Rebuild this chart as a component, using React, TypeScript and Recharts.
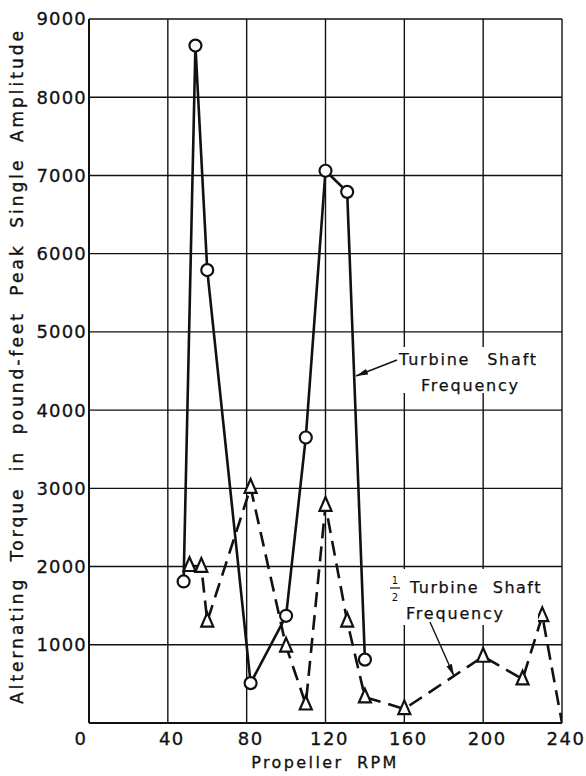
import React from "react";
import { LineChart, Line, XAxis, YAxis, CartesianGrid } from "recharts";

// Turbine shaft frequency (circles, solid)
const rpmTurbine = [48, 54, 60, 82, 100, 110, 120, 131, 140];
const torqueTurbine = [1810, 8660, 5790, 510, 1370, 3650, 7060, 6790, 810];

// 1/2 turbine shaft frequency (triangles, dashed); last point has no marker
const rpmHalf = [51, 57, 60, 82, 100, 110, 120, 131, 140, 160, 200, 220, 230, 240];
const torqueHalf = [2010, 2000, 1300, 3010, 980, 240, 2780, 1300, 330, 180, 850, 560, 1370, 0];
const halfMarked = [true, true, true, true, true, true, true, true, true, true, true, true, true, false];

const xTicks = [0, 40, 80, 120, 160, 200, 240];
const yTicks = [1000, 2000, 3000, 4000, 5000, 6000, 7000, 8000, 9000];

const turbineData = rpmTurbine.map((x, i) => ({ x, y: torqueTurbine[i] }));
const halfData = rpmHalf.map((x, i) => ({ x, y: torqueHalf[i], marked: halfMarked[i] }));

const INK = "#111";
const FONT = "'DejaVu Sans', sans-serif";

const CircleDot = (props: any) => {
  const { cx, cy, index } = props;
  return <circle key={"c" + index} cx={cx} cy={cy} r={6} fill="#fff" stroke={INK} strokeWidth={2.2} />;
};

const TriangleDot = (props: any) => {
  const { cx, cy, index, payload } = props;
  if (!payload || !payload.marked) return <g key={"t" + index} />;
  const s = 7.5;
  const d = `M${cx},${cy - s - 1} L${cx + s * 0.8},${cy + s * 0.7} L${cx - s * 0.8},${cy + s * 0.7} Z`;
  return <path key={"t" + index} d={d} fill="#fff" stroke={INK} strokeWidth={2.2} strokeLinejoin="miter" />;
};

const XTick = (props: any) => {
  const { x, y, payload } = props;
  const dx = payload.value === 0 ? -8 : 4;
  return (
    <text x={x + dx} y={y} dy="0.71em" textAnchor="middle" fill={INK} stroke={INK} strokeWidth={0.3}
      fontSize={18} fontFamily={FONT} letterSpacing={1.5}>
      {payload.value}
    </text>
  );
};

const YTick = (props: any) => {
  const { x, y, payload } = props;
  return (
    <text x={x} y={y} dy="0.36em" textAnchor="end" fill={INK} stroke={INK} strokeWidth={0.3}
      fontSize={18} fontFamily={FONT} letterSpacing={1.2}>
      {payload.value}
    </text>
  );
};

export default function App() {
  return (
    <div style={{ position: "absolute", left: 0, top: 0, width: 586, height: 776, background: "#fff" }}>
      <LineChart
        width={586}
        height={776}
        margin={{ top: 19, right: 24, bottom: 23, left: 29 }}
      >
        <CartesianGrid stroke={INK} strokeWidth={1.4} />
        <XAxis
          type="number"
          dataKey="x"
          domain={[0, 240]}
          ticks={xTicks}
          height={30}
          tickSize={0}
          tickMargin={9}
          tick={<XTick />}
          axisLine={{ stroke: INK, strokeWidth: 2 }}
          tickLine={false}
          allowDataOverflow
        />
        <YAxis
          type="number"
          dataKey="y"
          domain={[0, 9000]}
          ticks={yTicks}
          width={60}
          tickSize={0}
          tickMargin={2}
          tick={<YTick />}
          axisLine={{ stroke: INK, strokeWidth: 2 }}
          tickLine={false}
          interval={0}
        />
        <Line
          data={halfData}
          dataKey="y"
          type="linear"
          stroke={INK}
          strokeWidth={2.6}
          strokeDasharray="15 8"
          dot={TriangleDot}
          activeDot={false}
          isAnimationActive={false}
        />
        <Line
          data={turbineData}
          dataKey="y"
          type="linear"
          stroke={INK}
          strokeWidth={2.6}
          dot={CircleDot}
          activeDot={false}
          isAnimationActive={false}
        />
      </LineChart>
      <svg
        width={586}
        height={776}
        style={{ position: "absolute", left: 0, top: 0, pointerEvents: "none" }}
        fontFamily={FONT}
        fill={INK}
      >
        <defs>
          <marker id="arr" viewBox="0 0 12 6" refX="12" refY="3" markerWidth="12" markerHeight="6" markerUnits="userSpaceOnUse" orient="auto">
            <path d="M0,0 L12,3 L0,6 Z" fill={INK} />
          </marker>
        </defs>
        <text
          x={17}
          y={366}
          transform="rotate(-90, 17, 366)"
          textAnchor="middle"
          dominantBaseline="central"
          fontSize={17}
          letterSpacing={3}
          wordSpacing={7}
          stroke={INK}
          strokeWidth={0.35}
        >
          Alternating Torque in pound-feet Peak Single Amplitude
        </text>
        <text x={325} y={762} textAnchor="middle" dominantBaseline="central" fontSize={16}
          letterSpacing={2.4} wordSpacing={6} stroke={INK} strokeWidth={0.3}>
          Propeller RPM
        </text>

        <rect x={396} y={347} width={150} height={46} fill="#fff" />
        <text x={399} y={359} dominantBaseline="central" fontSize={16} letterSpacing={1.8} wordSpacing={10}
          stroke={INK} strokeWidth={0.25}>
          Turbine Shaft
        </text>
        <text x={421} y={385} dominantBaseline="central" fontSize={16} letterSpacing={1.8}
          stroke={INK} strokeWidth={0.25}>
          Frequency
        </text>
        <line x1={397} y1={360} x2={356} y2={376} stroke={INK} strokeWidth={1.4} markerEnd="url(#arr)" />

        <rect x={386} y={569} width={152} height={56} fill="#fff" />
        <text x={395} y={580} textAnchor="middle" dominantBaseline="central" fontSize={10}>1</text>
        <line x1={390} y1={588} x2={400} y2={588} stroke={INK} strokeWidth={1.2} />
        <text x={395} y={597} textAnchor="middle" dominantBaseline="central" fontSize={10}>2</text>
        <text x={410} y={587} dominantBaseline="central" fontSize={16} letterSpacing={1.5} wordSpacing={7}
          stroke={INK} strokeWidth={0.25}>
          Turbine Shaft
        </text>
        <text x={406} y={613} dominantBaseline="central" fontSize={16} letterSpacing={1.8}
          stroke={INK} strokeWidth={0.25}>
          Frequency
        </text>
        <line x1={430} y1={622} x2={454} y2={676} stroke={INK} strokeWidth={1.4} markerEnd="url(#arr)" />
      </svg>
    </div>
  );
}
